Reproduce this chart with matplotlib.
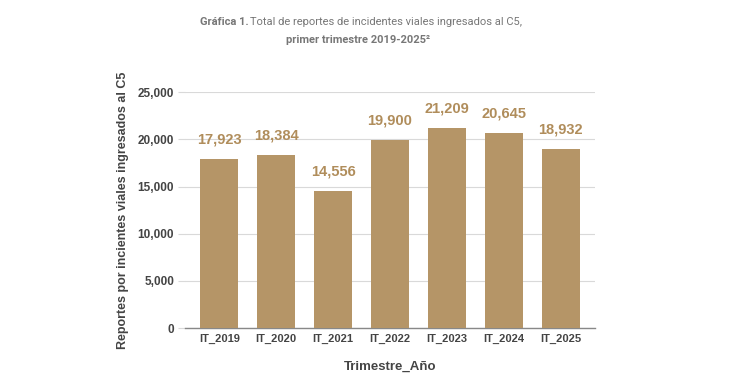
import matplotlib.pyplot as plt

# Data
trimestres = ['IT_2019', 'IT_2020', 'IT_2021', 'IT_2022', 'IT_2023', 'IT_2024', 'IT_2025']
reportes = [17923, 18384, 14556, 19900, 21209, 20645, 18932]
yticks = [0, 5000, 10000, 15000, 20000, 25000]

bar_color = '#B59567'
label_color = '#B08D5B'
text_color = '#444444'

plt.rcParams['font.family'] = ['Liberation Sans', 'DejaVu Sans']

fig = plt.figure(figsize=(7.5, 3.92), dpi=100)
ax = fig.add_axes([0.247, 0.163, 0.546, 0.602])

x = range(len(trimestres))
bars = ax.bar(x, reportes, width=0.67, color=bar_color, zorder=3)

for xi, v in zip(x, reportes):
    ax.annotate(f'{v:,}', (xi, v), xytext=(0, 9), textcoords='offset points',
                ha='center', va='bottom', fontsize=10.5, fontweight='bold',
                color=label_color, zorder=4)

ax.set_xlim(-0.6, 6.6)
ax.set_ylim(0, 25000)
ax.set_yticks(yticks)
ax.set_yticklabels([f'{t:,}' for t in yticks])
ax.set_xticks(list(x))
ax.set_xticklabels(trimestres)

ax.grid(axis='y', color='#d9d9d9', linewidth=0.8, zorder=0)
for s in ['top', 'right', 'left']:
    ax.spines[s].set_visible(False)
ax.spines['bottom'].set_color('#888888')
ax.spines['bottom'].set_linewidth(1.0)

ax.tick_params(axis='y', length=5, color='#d9d9d9', pad=3, labelsize=8.5, labelcolor=text_color)
ax.tick_params(axis='x', length=0, pad=4, labelsize=8, labelcolor=text_color)
for lbl in ax.get_xticklabels() + ax.get_yticklabels():
    lbl.set_fontweight('bold')

ax.set_ylabel('Reportes por incientes viales ingresados al C5', fontsize=9,
              fontweight='bold', color=text_color, labelpad=6)
ax.set_xlabel('Trimestre_Año', fontsize=9.5, fontweight='bold',
              color=text_color, labelpad=12)

# Title
fig.text(200 / 750, 1 - 22 / 392, 'Gráfica 1.', fontsize=8, fontweight='bold',
         color='#777777', ha='left', va='center', family='Roboto')
fig.text(250 / 750, 1 - 22 / 392, 'Total de reportes de incidentes viales ingresados al C5,',
         fontsize=8, color='#777777', ha='left', va='center', family='Roboto')
fig.text(358 / 750, 1 - 40 / 392, 'primer trimestre 2019-2025²', fontsize=8,
         fontweight='bold', color='#777777', ha='center', va='center', family='Roboto')

fig.savefig('out.png', dpi=100, facecolor='white')
